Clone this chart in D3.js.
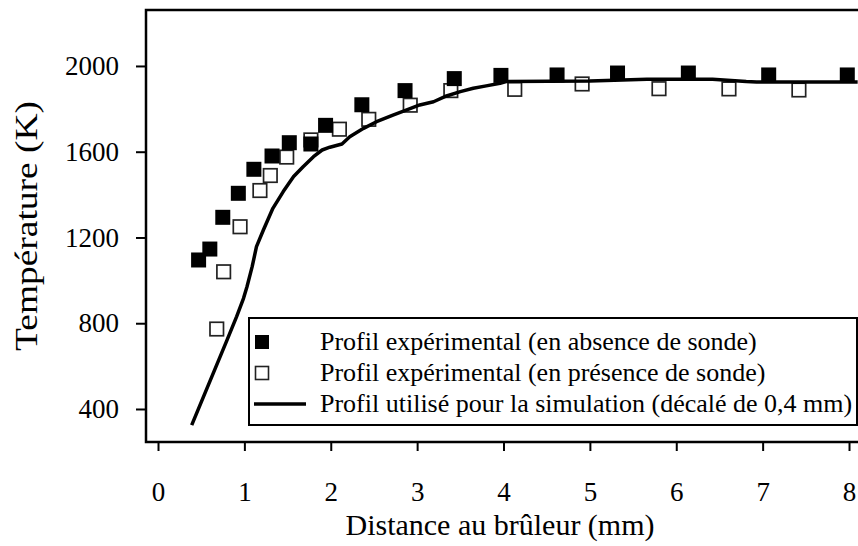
<!DOCTYPE html>
<html>
<head>
<meta charset="utf-8">
<script src="https://cdn.jsdelivr.net/npm/d3@7"></script>
<style>
  html, body { margin: 0; padding: 0; background: #fff; }
  svg { display: block; font-family: "Liberation Serif", "Times New Roman", serif; }
</style>
</head>
<body>
<svg id="chart" width="858" height="546"></svg>
<script>
// Profil expérimental en absence de sonde (mm, K)
const absenceX = [0.47, 0.60, 0.75, 0.93, 1.11, 1.32, 1.52, 1.77, 1.94, 2.36, 2.86, 3.43, 3.97, 4.62, 5.32, 6.14, 7.07, 7.98];
const absenceT = [1095, 1146, 1294, 1406, 1518, 1580, 1642, 1636, 1723, 1819, 1885, 1941, 1956, 1958, 1967, 1967, 1958, 1958];

// Profil expérimental en présence de sonde (mm, K)
const presenceX = [0.68, 0.76, 0.95, 1.18, 1.30, 1.49, 1.77, 2.10, 2.44, 2.92, 3.39, 4.13, 4.91, 5.80, 6.61, 7.42];
const presenceT = [773, 1040, 1250, 1419, 1489, 1575, 1655, 1705, 1751, 1817, 1885, 1891, 1916, 1894, 1893, 1888];

// Profil utilisé pour la simulation (décalé de 0,4 mm)
const simX = [0.39, 0.80, 0.91, 0.99, 1.03, 1.09, 1.14, 1.22, 1.33, 1.45, 1.57, 1.68, 1.80, 1.90, 1.99, 2.13, 2.22, 2.38, 2.53, 2.72, 2.88, 3.03, 3.19, 3.34, 3.50, 3.65, 3.80, 3.96, 4.04, 5.00, 5.66, 6.42, 6.81, 6.93, 8.10];
const simT = [325, 722, 831, 916, 970, 1064, 1157, 1235, 1336, 1414, 1484, 1530, 1577, 1608, 1621, 1636, 1670, 1709, 1740, 1771, 1795, 1818, 1833, 1860, 1880, 1896, 1907, 1919, 1928, 1930, 1938, 1938, 1927, 1925, 1925];

const xTicks = [0, 1, 2, 3, 4, 5, 6, 7, 8];
const yTicks = [400, 800, 1200, 1600, 2000];

const legendLabels = [
  "Profil expérimental (en absence de sonde)",
  "Profil expérimental (en présence de sonde)",
  "Profil utilisé pour la simulation (décalé de 0,4 mm)"
];

const xDomain = [-0.139, 8.104];
const yDomain = [246, 2261];

const svg = d3.select("#chart");
const plot = { left: 146, top: 10, bottom: 442, right: 858 };

const x = d3.scaleLinear().domain(xDomain).range([plot.left, plot.right]);
const y = d3.scaleLinear().domain(yDomain).range([plot.bottom, plot.top]);

// Axes
const xAxis = d3.axisBottom(x).tickValues(xTicks).tickSize(9).tickSizeOuter(0).tickPadding(31).tickFormat(d3.format("d"));
const yAxis = d3.axisLeft(y).tickValues(yTicks).tickSize(10).tickSizeOuter(0).tickPadding(17).tickFormat(d3.format("d"));

const gx = svg.append("g").attr("transform", `translate(0,${plot.bottom})`).call(xAxis);
const gy = svg.append("g").attr("transform", `translate(${plot.left},0)`).call(yAxis);

[gx, gy].forEach(g => {
  g.select(".domain").remove();
  g.selectAll(".tick line").attr("stroke", "#000").attr("stroke-width", 2);
  g.selectAll(".tick text")
    .attr("fill", "#000")
    .style("font-family", "'Liberation Serif', serif")
    .style("font-size", "27px");
});

// Frame (left, top, bottom)
svg.append("path")
  .attr("d", `M${plot.right + 10},${plot.top}H${plot.left}V${plot.bottom}H${plot.right + 10}`)
  .attr("fill", "none")
  .attr("stroke", "#000")
  .attr("stroke-width", 2.5);

// Presence markers (open squares)
const openSize = 13.5;
svg.append("g").selectAll("rect")
  .data(presenceX.map((d, i) => [d, presenceT[i]]))
  .join("rect")
  .attr("x", d => x(d[0]) - openSize / 2)
  .attr("y", d => y(d[1]) - openSize / 2)
  .attr("width", openSize)
  .attr("height", openSize)
  .attr("fill", "#fff")
  .attr("stroke", "#222")
  .attr("stroke-width", 1.7);

// Simulation profile
const line = d3.line().x(d => x(d[0])).y(d => y(d[1]));
svg.append("path")
  .datum(simX.map((d, i) => [d, simT[i]]))
  .attr("d", line)
  .attr("fill", "none")
  .attr("stroke", "#000")
  .attr("stroke-width", 3.5)
  .attr("stroke-linejoin", "round");

// Absence markers (filled squares)
const fillSize = 15;
svg.append("g").selectAll("rect")
  .data(absenceX.map((d, i) => [d, absenceT[i]]))
  .join("rect")
  .attr("x", d => x(d[0]) - fillSize / 2)
  .attr("y", d => y(d[1]) - fillSize / 2)
  .attr("width", fillSize)
  .attr("height", fillSize)
  .attr("fill", "#000");

// Axis titles
svg.append("text")
  .attr("x", 500)
  .attr("y", 535)
  .attr("text-anchor", "middle")
  .style("font-size", "30px")
  .text("Distance au brûleur (mm)");

svg.append("text")
  .attr("transform", "translate(37,226) rotate(-90)")
  .attr("text-anchor", "middle")
  .attr("textLength", 250)
  .attr("lengthAdjust", "spacingAndGlyphs")
  .style("font-size", "31px")
  .text("Température (K)");

// Legend
const lg = svg.append("g");
lg.append("rect")
  .attr("x", 249).attr("y", 318)
  .attr("width", 608).attr("height", 107)
  .attr("fill", "#fff")
  .attr("stroke", "#000")
  .attr("stroke-width", 2);

const rowY = [342, 373, 404];
lg.append("rect")
  .attr("x", 262 - 7).attr("y", rowY[0] - 7)
  .attr("width", 14).attr("height", 14)
  .attr("fill", "#000");
lg.append("rect")
  .attr("x", 262 - 6.5).attr("y", rowY[1] - 6.5)
  .attr("width", 13).attr("height", 13)
  .attr("fill", "#fff").attr("stroke", "#222").attr("stroke-width", 1.6);
lg.append("line")
  .attr("x1", 254).attr("x2", 306)
  .attr("y1", rowY[2]).attr("y2", rowY[2])
  .attr("stroke", "#000").attr("stroke-width", 3.5);

lg.selectAll("text.lbl")
  .data(legendLabels)
  .join("text")
  .attr("class", "lbl")
  .attr("x", 320)
  .attr("y", (d, i) => rowY[i] + 8)
  .style("font-size", "26px")
  .text(d => d);
</script>
</body>
</html>
